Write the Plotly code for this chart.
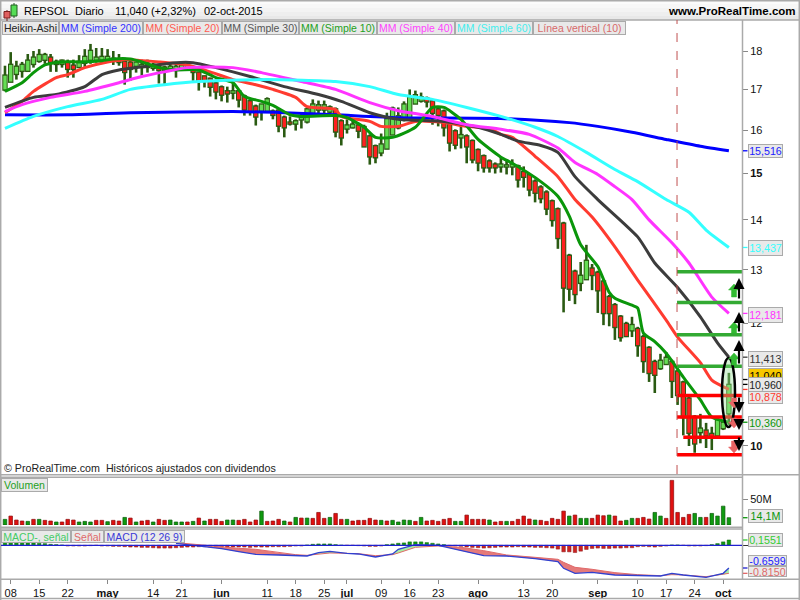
import plotly.graph_objects as go

# ---------- candles (Heikin-Ashi), one entry per session ----------
highs = [17.61,17.97,17.74,17.71,17.92,18.00,18.05,17.95,17.92,17.77,
17.77,17.77,17.77,17.89,18.05,18.19,18.08,18.08,18.05,18.00,
17.92,17.82,17.77,17.69,17.77,17.77,17.69,17.63,17.61,17.71,
17.69,17.71,17.71,17.61,17.45,17.35,17.30,17.25,17.10,17.07,
17.17,17.00,16.87,16.75,16.62,16.62,16.80,16.50,16.50,16.35,
16.33,16.26,16.42,16.55,16.75,16.72,16.72,16.60,16.55,16.26,
16.26,16.26,16.16,16.13,15.90,15.66,15.92,16.42,16.57,16.55,
16.70,17.00,16.97,16.92,16.82,16.75,16.55,16.50,16.18,16.02,
16.09,15.90,15.78,15.57,15.43,15.32,15.25,15.37,15.32,15.32,
15.20,15.16,15.00,14.87,14.74,14.63,14.43,14.26,13.96,13.31,
13.00,13.15,13.49,13.11,12.98,12.80,12.52,12.37,12.15,12.03,
12.12,11.94,11.80,11.60,11.37,11.47,11.50,11.37,11.20,11.02,
10.76,10.47,10.49,10.35,10.29,10.42,10.39,11.15]
body_top = [17.35,17.63,17.58,17.63,17.74,17.82,17.89,17.89,17.82,17.71,
17.74,17.69,17.61,17.71,17.84,18.00,17.82,17.84,17.84,17.79,
17.77,17.71,17.69,17.69,17.63,17.66,17.63,17.58,17.56,17.58,
17.58,17.61,17.61,17.50,17.43,17.33,17.27,17.15,17.05,16.95,
16.95,16.95,16.82,16.70,16.57,16.62,16.75,16.45,16.47,16.30,
16.18,16.21,16.30,16.50,16.62,16.60,16.60,16.55,16.50,16.21,
16.11,16.13,16.11,16.07,15.85,15.62,15.66,16.26,16.52,16.33,
16.62,16.80,16.85,16.80,16.77,16.70,16.50,16.45,16.13,15.97,
15.88,15.85,15.74,15.53,15.39,15.27,15.20,15.20,15.18,15.20,
15.16,15.03,14.96,14.82,14.69,14.58,14.39,14.22,13.92,13.27,
12.96,12.88,13.17,13.02,12.94,12.77,12.48,12.33,12.12,11.99,
11.97,11.90,11.76,11.57,11.33,11.35,11.40,11.33,11.17,10.99,
10.73,10.44,10.26,10.23,10.18,10.39,10.35,10.95]
body_bot = [17.00,17.20,17.40,17.48,17.48,17.66,17.74,17.77,17.71,17.66,
17.66,17.53,17.53,17.58,17.69,17.77,17.77,17.77,17.77,17.74,
17.71,17.45,17.53,17.61,17.58,17.58,17.56,17.50,17.50,17.53,
17.53,17.56,17.56,17.45,17.22,17.22,17.07,16.95,16.87,16.90,
16.92,16.75,16.50,16.45,16.33,16.47,16.47,16.37,16.11,16.07,
16.16,16.16,16.26,16.21,16.42,16.50,16.50,16.45,15.97,15.83,
16.04,16.07,15.99,15.62,15.39,15.37,15.48,15.57,15.90,16.07,
16.30,16.30,16.65,16.72,16.70,16.42,16.37,16.07,15.71,15.66,
15.83,15.62,15.32,15.25,15.14,15.14,15.14,15.16,15.16,15.16,
14.87,14.93,14.65,14.58,14.46,14.24,14.00,13.63,12.66,12.64,
12.54,12.75,12.82,12.90,12.61,12.19,12.19,11.94,11.76,11.78,
11.88,11.62,11.35,11.15,11.12,11.23,11.30,11.02,10.79,10.44,
10.20,10.04,10.21,10.16,10.15,10.16,10.27,10.50]
lows = [16.95,17.20,17.25,17.30,17.45,17.56,17.69,17.66,17.45,17.45,
17.56,17.30,17.30,17.56,17.58,17.66,17.69,17.69,17.71,17.63,
17.61,17.12,17.22,17.43,17.35,17.43,17.48,17.15,17.12,17.45,
17.30,17.53,17.48,17.22,16.97,17.05,16.82,16.75,16.70,16.67,
16.75,16.55,16.35,16.35,16.11,16.23,16.42,16.26,15.95,15.83,
16.11,15.99,16.04,16.16,16.33,16.37,16.37,16.37,15.83,15.64,
15.92,16.04,15.81,15.62,15.20,15.23,15.39,15.57,15.90,16.02,
16.21,16.30,16.65,16.67,16.55,16.13,16.09,15.85,15.50,15.55,
15.57,15.23,15.23,15.05,15.02,15.02,15.00,15.02,14.98,14.96,
14.69,14.69,14.50,14.37,14.35,14.10,13.86,13.41,12.20,12.41,
12.35,12.59,12.82,12.61,12.19,11.97,11.95,11.71,11.68,11.76,
11.76,11.42,11.15,11.00,10.82,11.20,11.30,10.74,10.63,10.16,
10.00,9.90,10.04,9.97,9.94,10.13,10.24,10.32]
candle_dir = ("GGGGGGGG"+"RR"+"G"+"RR"+"GGGGGGG"+"RRR"+"GGGG"+"RR"+"GGGG"+"RRRRRRR"+"G"+"RRRR"+"GG"
              +"RRRR"+"GGGGGGG"+"RR"+"GG"+"RRRR"+"GGGGGGGG"+"RRRRRR"+"G"+"RRRRRR"+"GGG"
              +"RRRRRRRRRRR"+"GG"+"RRRRRRR"+"G"+"RRRR"+"GG"+"RRRRR"+"G"+"RR"+"GGG")

# ---------- moving averages, read at session numbers ----------
ma200_i = [0,11,22,40,49,58,69,87,99,104,110,116,122,127]
ma200_v = [16.37,16.37,16.42,16.45,16.42,16.37,16.30,16.28,16.18,16.09,15.95,15.78,15.62,15.516]
ma20_i = [0,3,5,9,11,14,18,21,27,32,36,40,44,47,51,53,58,59,64,66,69,72,77,81,85,87,89,93,97,100,103,107,111,116,118,122,124,127]
ma20_v = [16.42,16.70,16.95,17.30,17.38,17.56,17.71,17.77,17.71,17.63,17.45,17.25,17.12,17.00,16.80,16.57,16.50,16.33,16.21,16.09,16.09,16.21,16.18,16.09,16.04,15.90,15.83,15.39,14.93,14.43,14.06,13.45,12.80,12.06,11.76,11.32,11.03,10.878]
ma30_i = [0,5,9,14,17,20,24,30,33,37,43,49,55,59,64,69,77,83,87,90,94,97,100,104,111,114,118,122,125,127]
ma30_v = [16.55,16.80,16.87,17.07,17.38,17.50,17.58,17.69,17.69,17.56,17.33,17.07,16.87,16.70,16.42,16.26,16.21,16.07,15.90,15.74,15.64,15.48,14.93,14.43,13.65,13.13,12.66,12.12,11.66,11.413]
ma10_i = [0,3,5,7,10,13,17,19,22,24,27,30,34,37,40,42,45,47,50,52,58,60,63,65,68,72,75,77,80,83,87,89,94,97,99,101,104,106,107,110,111,112,114,116,119,122,124,127]
ma10_v = [16.95,17.17,17.43,17.63,17.71,17.71,17.74,17.79,17.79,17.71,17.56,17.50,17.50,17.30,17.17,16.82,16.70,16.60,16.37,16.33,16.35,16.30,16.07,15.83,15.83,16.07,16.55,16.55,16.26,15.78,15.37,15.23,14.82,14.50,14.08,13.49,13.06,12.57,12.46,12.33,12.28,11.83,11.68,11.48,11.08,10.71,10.44,10.36]
ma40_i = [0,3,8,14,20,24,28,32,40,45,52,58,64,69,75,81,87,92,97,100,104,107,110,113,117,120,124,127]
ma40_v = [16.45,16.62,16.80,16.95,17.17,17.33,17.45,17.56,17.56,17.43,17.20,17.00,16.67,16.47,16.33,16.13,16.02,15.90,15.58,15.25,14.98,14.71,14.43,14.00,13.53,13.13,12.48,12.181]
ma60_i = [0,5,11,17,22,28,34,46,58,64,69,75,81,87,93,97,102,107,111,116,120,123,127]
ma60_v = [16.04,16.33,16.57,16.75,17.00,17.12,17.20,17.25,17.20,17.07,16.87,16.75,16.55,16.33,16.07,15.85,15.48,15.09,14.82,14.43,14.16,13.79,13.437]

# ---------- support / resistance levels ----------
green_levels = [12.96, 12.38, 11.80, 11.26]
red_levels = [10.78, 10.44, 10.13, 9.87]
level_start = [117.9, 117.9, 117.9, 117.9, 117.9, 117.9, 119.0, 117.9]
level_end = 129.3

# ---------- volume (millions) ----------
volume = [10.9,17.3,9.6,7.7,7.0,10.9,10.9,9.0,7.7,5.8,
5.8,10.9,9.6,5.8,7.0,5.8,9.0,9.0,6.4,9.0,
7.7,14.7,13.4,5.8,7.7,9.0,5.8,10.9,9.0,9.6,
5.8,5.8,5.8,7.0,13.4,7.7,10.9,10.9,7.0,9.6,
9.6,9.0,10.9,5.8,9.6,26.9,7.0,7.7,10.9,7.7,
5.8,14.7,13.4,13.4,12.8,24.3,12.8,14.7,22.4,10.9,
10.9,7.7,9.0,9.0,12.8,9.6,9.0,7.7,9.0,5.8,
9.6,9.0,7.0,14.7,7.7,9.0,7.0,10.9,12.8,7.0,
7.0,19.2,10.9,10.9,10.9,9.6,5.8,7.0,7.0,7.0,
10.9,17.3,11.5,9.6,9.0,7.0,12.8,10.9,26.9,17.3,
19.2,12.8,12.8,12.8,19.2,17.9,19.2,17.3,7.7,9.0,
12.8,12.8,14.7,11.5,24.3,17.3,12.8,86.4,24.3,14.7,
20.5,22.4,14.7,14.7,22.4,17.3,36.5,14.1]
volume_dir = ("GRRRGRGRRG"+"RRRGGGRRGR"+"RGRGRRGRRG"+"GGRGRGRRRG"+"GRRRRGRRRG"+"RGRGRRRGRR"+"GRRRRRGRGG"
              +"GGRGRRRRRG"+"GRRRRGRRGR"+"RRRGRRRRRG"+"RGGRRRGRRG"+"GRRRGGRRRR"+"RGGRGGGG")

# ---------- MACD ----------
hist = [.09,.09,.08,.08,.07,.07,.06,.05,.03,.02,
.01,-.02,-.02,-.02,-.02,-.01,0,-.02,-.02,-.03,
-.03,-.04,-.05,-.05,-.06,-.06,-.07,-.08,-.08,-.08,
-.07,-.06,-.05,-.05,-.04,-.04,-.05,-.05,-.06,-.06,
-.05,-.05,-.05,-.06,-.05,-.05,-.05,-.04,-.04,-.04,
-.03,-.02,-.02,.01,.03,.04,.04,.04,.02,.005,
0,0,-.01,-.02,-.03,-.03,-.02,.02,.04,.06,
.07,.10,.10,.10,.08,.06,.04,.02,-.01,-.02,
-.03,-.05,-.06,-.07,-.08,-.07,-.06,-.05,-.05,-.05,
-.04,-.05,-.05,-.06,-.06,-.07,-.08,-.11,-.19,-.19,
-.21,-.17,-.12,-.09,-.08,-.09,-.09,-.08,-.08,-.07,
-.07,-.04,-.03,-.04,-.05,-.03,-.02,.01,.01,0,
-.02,-.02,-.02,-.01,.02,.05,.10,.1551]
macd_i = [30,34,38,41,44,48,51,53,55,57,60,62,65,68,69,72,76,80,84,88,93,97,98,100,103,107,111,115,117,119,123,126,127]
macd_v = [.058,-.019,-.097,-.184,-.262,-.281,-.310,-.310,-.213,-.175,-.233,-.252,-.340,-.252,-.116,.019,0,-.155,-.301,-.310,-.388,-.475,-.669,-.815,-.786,-.863,-.883,-.892,-.815,-.863,-.931,-.815,-.6599]
signal_v = [.078,.019,-.058,-.087,-.116,-.213,-.272,-.291,-.252,-.223,-.233,-.243,-.301,-.272,-.223,-.058,-.019,-.058,-.155,-.281,-.349,-.407,-.495,-.640,-.698,-.795,-.854,-.883,-.854,-.863,-.912,-.854,-.8150]

# ---------- ticks ----------
x_tick_pos = [1,6,11,18,26,31,38,46,51,56,60,66,71,76,83,91,96,104,111,116,121,126]
x_tick_txt = ["08","15","22","<b>may</b>","14","21","<b>jun</b>","11","18","25","<b>jul</b>","09","16","23",
              "<b>ago</b>","13","20","<b>sep</b>","10","17","24","<b>oct</b>"]
price_ticks = [18,17,16,15,14,13,12,10]
price_tick_txt = ["18","17","16","<b>15</b>","14","13","12","<b>10</b>"]

FONT = "Liberation Sans"
W, H = 800, 600
def fx(p): return p / W
def fy(p): return 1 - p / H

xs = list(range(len(highs)))

fig = go.Figure()
WICK = "#2a5a12"
wick_x, wick_y, body_x, body_y = [], [], [], []
fills = {"G": ([], []), "R": ([], [])}
for i, h, l, t, b, d in zip(xs, highs, lows, body_top, body_bot, candle_dir):
    wick_x += [i, i, None]
    wick_y += [l, h, None]
    # a body is never thinner than its outline
    top, bot = t * 1.002, b * 0.998
    body_x += [i, i, None]
    body_y += [bot, top, None]
    fills[d][0].extend([i, i, None])
    fills[d][1].extend([b, t, None])
fig.add_trace(go.Scatter(x=wick_x, y=wick_y, mode="lines", line=dict(color=WICK, width=2.6), hoverinfo="skip", xaxis="x", yaxis="y"))
fig.add_trace(go.Scatter(x=body_x, y=body_y, mode="lines", line=dict(color=WICK, width=5.4), hoverinfo="skip", xaxis="x", yaxis="y"))
for d, col in [("G", "#66dd55"), ("R", "#ff2020")]:
    fig.add_trace(go.Scatter(x=fills[d][0], y=fills[d][1], mode="lines", line=dict(color=col, width=3.4), hoverinfo="skip", xaxis="x", yaxis="y"))

for ix, v, col in [(ma200_i, ma200_v, "#0000ff"), (ma20_i, ma20_v, "#ff3b30"), (ma30_i, ma30_v, "#3c3c3c"),
                   (ma10_i, ma10_v, "#0a960a"), (ma40_i, ma40_v, "#ff33ff"), (ma60_i, ma60_v, "#33ffff")]:
    fig.add_trace(go.Scatter(x=ix, y=v, mode="lines", line=dict(color=col, width=3, shape="spline", smoothing=0.6), hoverinfo="skip",
                             xaxis="x", yaxis="y"))

for lv, st, col in zip(green_levels + red_levels, level_start, ["#33aa33"] * 4 + ["#ff0000"] * 4):
    fig.add_trace(go.Scatter(x=[st, level_end], y=[lv, lv], mode="lines", line=dict(color=col, width=3.5),
                             hoverinfo="skip", xaxis="x", yaxis="y"))

fig.add_trace(go.Bar(x=xs, y=volume, width=0.62,
    marker=dict(color=["#0f9a0f" if d == "G" else "#e01010" for d in volume_dir],
                line=dict(color=["#0a5a0a" if d == "G" else "#8a0a0a" for d in volume_dir], width=0.7)),
    hoverinfo="skip", xaxis="x2", yaxis="y2"))

fig.add_trace(go.Bar(x=xs, y=hist, width=0.62,
    marker=dict(color=["#119911" if h > 0 else "#cc2222" for h in hist],
                line=dict(color=["#0a6a0a" if h > 0 else "#8a1a1a" for h in hist], width=0.5)),
    hoverinfo="skip", xaxis="x3", yaxis="y3"))

rx, ry, gx, gy = [], [], [], []
for k in range(len(macd_i) - 1):
    quad_x = [macd_i[k], macd_i[k + 1], macd_i[k + 1], macd_i[k], None]
    quad_y = [macd_v[k], macd_v[k + 1], signal_v[k + 1], signal_v[k], None]
    if signal_v[k] + signal_v[k + 1] >= macd_v[k] + macd_v[k + 1]:
        rx += quad_x; ry += quad_y
    else:
        gx += quad_x; gy += quad_y
fig.add_trace(go.Scatter(x=rx, y=ry, mode="none", fill="toself", fillcolor="#e57a7a", hoverinfo="skip", xaxis="x3", yaxis="y3"))
fig.add_trace(go.Scatter(x=gx, y=gy, mode="none", fill="toself", fillcolor="#a5eea5", hoverinfo="skip", xaxis="x3", yaxis="y3"))
fig.add_trace(go.Scatter(x=macd_i, y=signal_v, mode="lines", line=dict(color="#e06a6a", width=1), hoverinfo="skip", xaxis="x3", yaxis="y3"))
fig.add_trace(go.Scatter(x=macd_i, y=macd_v, mode="lines", line=dict(color="#3040d0", width=1.3), hoverinfo="skip", xaxis="x3", yaxis="y3"))

# ---------- decoration ----------
GRAY = "#aaaaaa"
shapes = []
def rect(x0, y0, x1, y1, fill=None, line=None, lw=1, layer="above"):
    shapes.append(dict(type="rect", xref="paper", yref="paper", x0=fx(x0), x1=fx(x1), y0=fy(y0), y1=fy(y1),
                       fillcolor=fill or "rgba(0,0,0,0)", line=dict(color=line or "rgba(0,0,0,0)", width=lw if line else 0), layer=layer))
def hline(x0, x1, y, col=GRAY, lw=1.5):
    shapes.append(dict(type="line", xref="paper", yref="paper", x0=fx(x0), x1=fx(x1), y0=fy(y), y1=fy(y), line=dict(color=col, width=lw), layer="above"))
def vline(x, y0, y1, col=GRAY, lw=1.5):
    shapes.append(dict(type="line", xref="paper", yref="paper", x0=fx(x), x1=fx(x), y0=fy(y0), y1=fy(y1), line=dict(color=col, width=lw), layer="above"))

# header gradient
for k, c in enumerate(["#fbfbfb", "#f7f7f7", "#f3f3f3", "#eeeeee", "#e8e8e8"]):
    rect(0, k * 4, 800, k * 4 + 4, fill=c, layer="below")
hline(0, 800, 0.7); hline(0, 800, 20)
vline(0.7, 0, 600)
hline(0, 800, 474.7); hline(0, 742, 477.3); hline(0, 742, 527.3); hline(0, 742, 529); hline(0, 800, 579.3)
hline(0, 800, 598.5)
vline(742.5, 20, 579.3)
vline(799.3, 0, 600)

# zero line MACD
shapes.append(dict(type="line", xref="paper", yref="y3", x0=fx(1), x1=fx(742), y0=0, y1=0, line=dict(color="#2020d0", width=1.3), layer="above"))
# vertical dashed
shapes.append(dict(type="line", xref="x", yref="paper", x0=117.9, x1=117.9, y0=fy(474), y1=fy(20), line=dict(color="#c05050", width=1, dash="dash"), layer="above"))

# header icon
vline(7, 10, 26, "#7a2020", 1); rect(4, 11.5, 10, 18, fill="#e06060", line="#7a2020")
vline(14, 3, 18, "#205a20", 1); rect(11, 5, 17, 16, fill="#55dd55", line="#205a20")

# ellipse round last candle
shapes.append(dict(type="circle", xref="paper", yref="paper", x0=fx(722), x1=fx(735), y0=fy(427), y1=fy(358),
                   fillcolor="rgba(150,225,150,0.4)", line=dict(color="#000000", width=2.5), layer="above"))

def block(xc, y0, y1, col, up=True):
    # pixel path of a block arrow from tail y0 to tip y1
    hw, sw = 5.5, 2.5
    hh = 6 if up else -6
    P = [(xc - sw, y0), (xc - sw, y1 + hh), (xc - hw, y1 + hh), (xc, y1), (xc + hw, y1 + hh), (xc + sw, y1 + hh), (xc + sw, y0)]
    path = "M " + " L ".join(f"{fx(a):.5f},{fy(b):.5f}" for a, b in P) + " Z"
    shapes.append(dict(type="path", xref="paper", yref="paper", path=path, fillcolor=col, line=dict(color=col, width=0.5), layer="above"))

for tail, tip in [(297, 284), (333, 322), (365, 353)]:
    block(734, tail, tip, "#33bb33", True)
for tail, tip in [(398, 408), (418, 428), (441, 453)]:
    block(734, tail, tip, "#e86464", False)

# tick dashes for the value labels
for val, col, yr in [(15.516, "#0000ff", "y"), (13.437, "#33ffff", "y"), (12.181, "#ff33ff", "y"), (11.413, "#3c3c3c", "y"),
                     (11.04, "#000000", "y"), (10.96, "#000000", "y"), (10.878, "#ff3b30", "y"), (10.36, "#0a960a", "y"),
                     (14.1, "#0a960a", "y2"), (.1551, "#33cc33", "y3"), (-.6599, "#2020d0", "y3"), (-.8150, "#e06a6a", "y3")]:
    shapes.append(dict(type="line", xref="paper", yref=yr, x0=fx(743), x1=fx(747.5), y0=val, y1=val, line=dict(color=col, width=1.3), layer="above"))

ann = []
def text(x, y, s, size=11, col="#000000", anchor="left"):
    ann.append(dict(xref="paper", yref="paper", x=fx(x), y=fy(y), text=s, showarrow=False, xanchor=anchor, yanchor="middle",
                    font=dict(family=FONT, size=size, color=col), align=anchor))
def box(x0, y0, x1, y1, s, col, size=10.7, fill="#e9e9e9"):
    ann.append(dict(xref="paper", yref="paper", x=fx((x0 + x1) / 2), y=fy((y0 + y1) / 2), text=s, showarrow=False,
                    xanchor="center", yanchor="middle", width=x1 - x0 - 2, height=y1 - y0 - 2, borderpad=0, borderwidth=1,
                    bordercolor=GRAY, bgcolor=fill, font=dict(family=FONT, size=size, color=col)))

text(22, 11, "REPSOL", 11)
text(73, 11, "Diario", 11)
text(113, 11, "11,040 (+2,32%)", 11)
text(202, 11, "02-oct-2015", 11)
text(798, 11, "<b>www.ProRealTime.com</b>", 11.5, anchor="right")

for x0, x1, s, c in [(2, 59, "Heikin-Ashi", "#222222"), (59, 143, "MM (Simple 200)", "#3333ff"), (143, 222, "MM (Simple 20)", "#ff5a50"),
                     (222, 299, "MM (Simple 30)", "#555555"), (299, 377, "MM (Simple 10)", "#22a022"), (377, 455, "MM (Simple 40)", "#ff44ff"),
                     (455, 533, "MM (Simple 60)", "#44eeee"), (533, 626, "Línea vertical (10)", "#d86a6a")]:
    box(x0, 21, x1, 35, s, c, size=10.5)

text(2, 468, "© ProRealTime.com  Históricos ajustados con dividendos", 10.7, "#222222")
box(1, 478, 48, 492, "Volumen", "#22a022", size=10.5)
box(1, 529.5, 71, 542.5, "MACD-, señal", "#44cc66", size=10.5)
box(71, 529.5, 104, 542.5, "Señal", "#e06a6a", size=10.5)
box(104, 529.5, 185, 542.5, "MACD (12 26 9)", "#3a3ad8", size=10.5)

for y, s, c in [(248, "13,437", "#33ffff"), (314.5, "12,181", "#ff33ff"), (358.5, "11,413", "#333333")]:
    box(748, y - 8, 783, y + 8, s, c)
box(748, 389, 783, 404, "10,878", "#ff3b30")
box(748, 368, 783, 383, "11,040", "#000000", fill="#f7c800")
box(748, 377, 783, 392, "10,960", "#222222")
box(748, 416, 783, 430, "10,360", "#0a960a")
box(748, 144, 783, 158, "15,516", "#2020ff")
box(748, 509, 783, 523, "14,1M", "#0a960a")
box(748, 533, 783, 547, "0,1551", "#33cc33")
box(748, 555, 787, 566, "-0,6599", "#2020ff")
box(748, 566, 787, 577, "-0,8150", "#e06a6a")

# black arrows
for tip, tail in [(278, 300), (312, 333), (340, 365), (413, 396), (430, 418), (451, 436)]:
    ann.append(dict(xref="paper", yref="paper", x=fx(739), y=fy(tip), axref="pixel", ayref="pixel", ax=0, ay=tail - tip, text="",
                    showarrow=True, arrowhead=2, arrowsize=1, arrowwidth=2.2, arrowcolor="#000000"))

x_range = [-0.70, 129.3]
dom_x = [fx(1), fx(742)]
def xa(**k):
    return dict(range=x_range, domain=dom_x, showgrid=False, zeroline=False, **k)

fig.update_layout(
    width=W, height=H, margin=dict(l=0, r=0, t=0, b=0, pad=0), paper_bgcolor="#ffffff", plot_bgcolor="#ffffff",
    showlegend=False, barmode="overlay",
    font=dict(family=FONT, size=11, color="#111111"),
    xaxis=xa(anchor="y", showticklabels=False, ticks=""),
    xaxis2=xa(anchor="y2", showticklabels=False, ticks=""),
    xaxis3=xa(anchor="y3", tickmode="array", tickvals=x_tick_pos, ticktext=x_tick_txt, ticks="outside", ticklen=4, tickcolor="#888888",
              tickfont=dict(family=FONT, size=11, color="#111111")),
    yaxis=dict(type="log", domain=[fy(474), fy(21)], range=[0.9819, 1.27466], side="right", anchor="x", showgrid=False, zeroline=False,
               tickmode="array", tickvals=price_ticks, ticktext=price_tick_txt, ticks="outside", ticklen=5, tickcolor="#888888",
               tickfont=dict(family=FONT, size=11, color="#111111")),
    yaxis2=dict(domain=[fy(525), fy(477.5)], range=[0, 92], side="right", anchor="x2", showgrid=False, zeroline=False,
                tickmode="array", tickvals=[50], ticktext=["50M"], ticks="outside", ticklen=5, tickcolor="#888888",
                tickfont=dict(family=FONT, size=11, color="#111111")),
    yaxis3=dict(domain=[fy(579), fy(529)], range=[-0.98, 0.475], side="right", anchor="x3", showgrid=False, zeroline=False,
                tickmode="array", tickvals=[0], ticktext=[""], ticks="outside", ticklen=5, tickcolor="#333333"),
    shapes=shapes, annotations=ann,
)

fig.write_html("out.html", config=dict(displayModeBar=False),
               post_script="document.body.style.margin='0';document.body.style.overflow='hidden';")
